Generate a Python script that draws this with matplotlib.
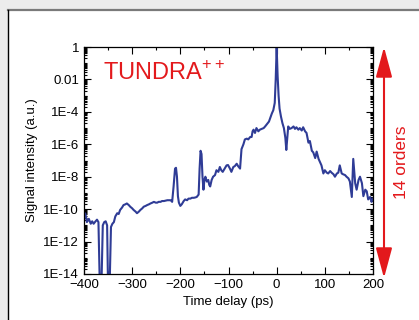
import numpy as np
import matplotlib
matplotlib.use("Agg")
from matplotlib import pyplot as plt
from matplotlib import ticker
from matplotlib.patches import Rectangle
from matplotlib.lines import Line2D

# time delay (ps) and log10 of signal intensity
delay = [-400, -397, -394, -390, -386, -383, -380, -376, -373, -370,
         -367, -364, -361, -358, -355, -352, -350, -347, -344, -341,
         -338, -335, -331, -328, -325, -321, -318, -314, -311, -307,
         -304, -300, -297, -293, -290, -286, -283, -279, -276, -272,
         -269, -265, -262, -258, -255, -251, -248, -245, -241, -238,
         -234, -230, -227, -224, -220, -217, -214, -211, -209, -207,
         -205, -203, -200, -197, -193, -190, -186, -183, -179, -176,
         -172, -169, -166, -162, -160, -158, -156, -154, -152, -150,
         -148, -145, -142, -140, -138, -135, -132, -128, -125, -121,
         -118, -115, -112, -108, -104, -101, -97, -94, -90, -87,
         -83, -80, -76, -73, -69, -66, -62, -59, -55, -52,
         -50, -48, -45, -42, -38, -35, -31, -27, -24, -20,
         -16, -13, -10, -7, -4, -2, -1, 0, 1, 2,
         4, 6, 9, 12, 15, 18, 20, 22, 24, 27,
         31, 35, 38, 41, 45, 48, 52, 55, 59, 62,
         66, 69, 73, 76, 80, 83, 87, 90, 93, 97,
         100, 104, 107, 111, 114, 118, 121, 125, 128, 131,
         135, 138, 142, 145, 149, 152, 156, 159, 163, 166,
         170, 173, 177, 180, 184, 187, 190, 194, 197, 200]
log_signal = [-10.2, -10.3, -10.8, -10.6, -10.9, -10.75, -10.9, -10.75, -10.65, -10.8,
              -15.0, -15.0, -11.0, -10.8, -10.75, -11.0, -15.0, -15.0, -11.1, -10.9,
              -10.8, -10.45, -10.25, -10.3, -10.05, -9.9, -9.75, -9.7, -9.65, -9.75,
              -9.85, -9.95, -10.05, -10.15, -10.25, -10.15, -10.05, -9.95, -9.85, -9.8,
              -9.75, -9.7, -9.65, -9.6, -9.55, -9.6, -9.6, -9.55, -9.55, -9.5,
              -9.5, -9.47, -9.45, -9.45, -9.45, -9.55, -8.6, -7.5, -7.45, -8.0,
              -9.2, -9.6, -9.8, -9.7, -9.5, -9.4, -9.45, -9.35, -9.35, -9.3,
              -9.3, -9.28, -9.25, -9.1, -7.5, -6.4, -6.6, -8.0, -8.8, -8.2,
              -8.0, -8.3, -8.2, -8.5, -8.6, -8.2, -8.0, -7.9, -7.6, -7.7,
              -7.4, -7.6, -7.7, -7.5, -7.3, -7.28, -7.5, -7.7, -7.4, -7.35,
              -7.2, -7.35, -7.5, -6.3, -6.0, -5.7, -5.65, -5.7, -5.55, -5.55,
              -5.2, -5.1, -5.3, -5.0, -5.2, -5.1, -5.05, -5.0, -4.9, -4.75,
              -4.6, -4.35, -4.1, -3.9, -3.45, -2.0, -1.0, 0.0, -1.0, -1.8,
              -3.0, -3.8, -4.3, -4.7, -5.0, -5.6, -6.35, -5.6, -4.9, -5.05,
              -5.0, -4.9, -5.05, -4.95, -5.1, -5.0, -5.15, -4.95, -5.2, -5.3,
              -5.9, -5.8, -6.4, -6.5, -6.85, -6.45, -6.9, -7.1, -7.3, -7.8,
              -7.6, -7.75, -7.8, -7.65, -7.75, -7.85, -8.0, -7.8, -7.75, -7.3,
              -7.8, -7.85, -7.9, -8.0, -8.1, -8.3, -9.25, -6.9, -8.4, -8.8,
              -8.2, -8.0, -8.4, -9.2, -8.8, -8.9, -9.4, -9.25, -9.55, -9.35]

ytick_exp = [0, -2, -4, -6, -8, -10, -12, -14]
ytick_labels = ["1", "0.01", "1E-4", "1E-6", "1E-8", "1E-10", "1E-12", "1E-14"]
xticks = [-400, -300, -200, -100, 0, 100, 200]

plt.rcParams["font.family"] = ["Liberation Sans", "DejaVu Sans"]
plt.rcParams["mathtext.fontset"] = "custom"
plt.rcParams["mathtext.rm"] = "Liberation Sans"

red = "#e3191c"
blue = "#2f3c96"

fig = plt.figure(figsize=(4.19, 3.2), dpi=100, facecolor="#ececec")

# white panel with its border
fig.patches.append(Rectangle((8 / 419, 0), 1, 310 / 320, transform=fig.transFigure,
                             facecolor="white", edgecolor="none", zorder=-10))
fig.lines.append(Line2D([8 / 419, 1], [310 / 320, 310 / 320], transform=fig.transFigure,
                        color="#7a7a7a", lw=1.6))
fig.lines.append(Line2D([8 / 419, 8 / 419], [0, 310 / 320], transform=fig.transFigure,
                        color="black", lw=1.0))

ax = fig.add_axes([84 / 419, 46 / 320, 289 / 419, 227 / 320])
ax.set_facecolor("white")
ax.semilogy(delay, 10.0 ** np.array(log_signal), color=blue, lw=1.5)

ax.set_xlim(-400, 200)
ax.set_ylim(1e-14, 1)
ax.set_xticks(xticks)
ax.xaxis.set_minor_locator(ticker.MultipleLocator(50))
ax.set_yticks([10.0 ** e for e in ytick_exp])
ax.set_yticklabels(ytick_labels)
ax.yaxis.set_minor_locator(ticker.LogLocator(base=10, subs=np.arange(1, 10), numticks=100))
ax.yaxis.set_minor_formatter(ticker.NullFormatter())

ax.tick_params(which="both", direction="in", top=True, right=True, labelsize=9.5, width=0.8)
ax.tick_params(which="major", length=5)
ax.tick_params(which="minor", length=2.5)
for sp in ax.spines.values():
    sp.set_linewidth(0.9)

ax.set_xlabel("Time delay (ps)", fontsize=9.5, labelpad=4)
ax.set_ylabel("Signal intensity (a.u.)", fontsize=9.5, labelpad=4)

ax.text(0.065, 0.885, r"TUNDRA$^{\mathrm{++}}$", transform=ax.transAxes, color=red,
        fontsize=17, va="center", ha="left")

# double arrow spanning 14 orders
ax.annotate("", xy=(384, 273), xytext=(384, 42), xycoords="figure pixels",
            textcoords="figure pixels",
            arrowprops=dict(arrowstyle="<|-|>,head_length=1.85,head_width=0.5",
                            mutation_scale=10, color=red, lw=1.5,
                            shrinkA=0, shrinkB=0))
fig.text(401 / 419, 1 - 162 / 320, "14 orders", rotation=90, color=red,
         fontsize=12.5, ha="center", va="center")

fig.savefig("out.png", dpi=100, facecolor=fig.get_facecolor())
